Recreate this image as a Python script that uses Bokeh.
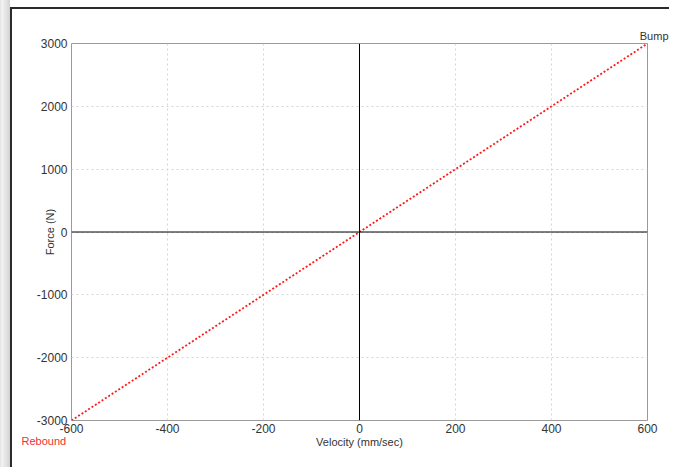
from bokeh.plotting import figure
from bokeh.models import Span, Title, FixedTicker, Range1d, PrintfTickFormatter
from bokeh.embed import file_html
from bokeh.resources import INLINE

velocity = [-600, 600]
force = [-3000, 3000]
x_ticks = [-600, -400, -200, 0, 200, 400, 600]
y_ticks = [-3000, -2000, -1000, 0, 1000, 2000, 3000]
end_labels = ["Rebound", "Bump"]

FONT = "Liberation Sans"
W, H = 669, 467

p = figure(width=W, height=H, output_backend="svg", toolbar_location=None,
           x_range=Range1d(velocity[0], velocity[-1]), y_range=Range1d(force[0], force[-1]),
           min_border_left=71, min_border_right=22, min_border_top=43, min_border_bottom=47)

p.outline_line_color = "#9a9a9a"
p.outline_line_width = 1
p.background_fill_color = "white"
p.border_fill_color = None
p.styles = {
    "background": (
        "linear-gradient(#2b2b2b, #2b2b2b) 10px 7px / 100% 2px no-repeat, "
        "linear-gradient(#2b2b2b, #2b2b2b) 10px 7px / 2px 100% no-repeat, "
        "linear-gradient(to right, #e2e2e2 0px, #f3f3f3 2px, #d2d2d2 10px) 0 0 / 10px 100% no-repeat, "
        "#ffffff"
    )
}

for ax in (p.xaxis[0], p.yaxis[0]):
    ax.axis_line_color = None
    ax.major_tick_line_color = None
    ax.minor_tick_line_color = None
    ax.major_tick_out = 0
    ax.major_tick_in = 0
    ax.minor_tick_out = 0
    ax.minor_tick_in = 0
    ax.major_label_text_font = FONT
    ax.major_label_text_font_size = "12px"
    ax.major_label_text_color = "#333333"
    ax.axis_label_text_font = FONT
    ax.axis_label_text_font_size = "11px"
    ax.axis_label_text_font_style = "normal"
    ax.axis_label_text_color = "#333333"
    ax.formatter = PrintfTickFormatter(format="%d")

p.xaxis.ticker = FixedTicker(ticks=x_ticks)
p.yaxis.ticker = FixedTicker(ticks=y_ticks)
p.xaxis.axis_label = "Velocity (mm/sec)"
p.yaxis.axis_label = "Force (N)"
p.xaxis.major_label_standoff = 3
p.xaxis.axis_label_standoff = 0
p.yaxis.major_label_standoff = 4
p.yaxis.axis_label_standoff = -22

p.grid.grid_line_color = "#d4d4d4"
p.grid.grid_line_dash = "2 3"
p.grid.grid_line_width = 1

p.add_layout(Span(location=0, dimension="height", line_color="black", line_width=1))
p.add_layout(Span(location=0, dimension="width", line_color="black", line_width=1))

p.line(velocity, force, line_color="#ff1a1a", line_width=1.8, line_dash="2 2")

# end labels of the curve (placed in the side panels so that they are not clipped)
p.title.text = end_labels[1]
p.title.align = "right"
p.title.offset = -21
p.title.standoff = 4
p.title.text_font = FONT
p.title.text_font_size = "11px"
p.title.text_font_style = "normal"
p.title.text_color = "#333333"

rebound = Title(text=end_labels[0], align="left", vertical_align="top", offset=-50,
                standoff=-31, text_font=FONT, text_font_size="11px",
                text_font_style="normal", text_color="#f03030")
p.add_layout(rebound, "below")

open("out.html", "w").write(file_html(p, INLINE))
